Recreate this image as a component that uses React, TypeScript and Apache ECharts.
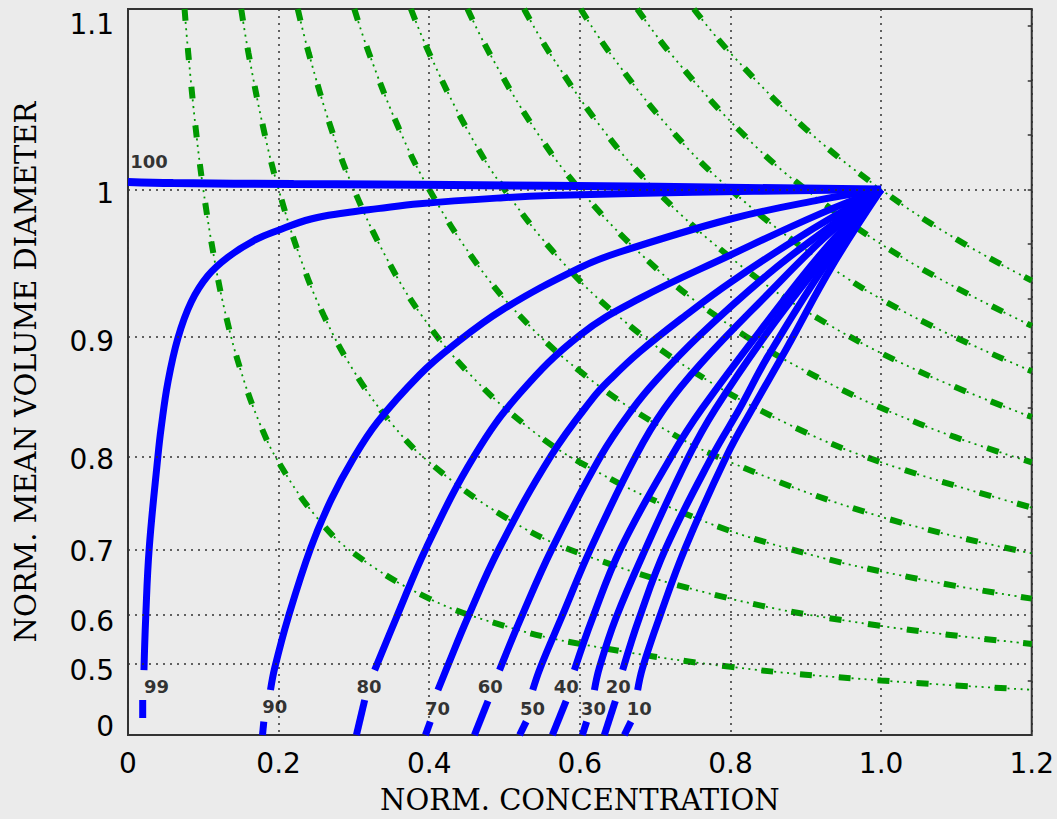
import React, { useEffect, useRef } from "react";
import * as echarts from "echarts";

// ---------- axis ticks ----------
const xTicks = [0, 0.2, 0.4, 0.6, 0.8, 1.0, 1.2];
const yTickLabels = [0, 0.5, 0.6, 0.7, 0.8, 0.9, 1, 1.1]; // normalized diameter labels
const yGridLabels = [0.5, 0.6, 0.7, 0.8, 0.9, 1];

// ---------- blue mixing lines: [norm. concentration, norm. volume (= diameter^3)] ----------
const rh100 = [[0, 1.014], [0.06, 1.012], [0.22, 1.01], [0.56, 1.007], [1, 1]];
const rh99Lower = [[0.0195, 0.031], [0.0195, 0.064]];
const rh99Upper = [[0.0212, 0.119], [0.0235, 0.215], [0.0282, 0.343], [0.0398, 0.512], [0.0442, 0.565], [0.053, 0.647], [0.0663, 0.728], [0.0839, 0.794], [0.106, 0.842], [0.1326, 0.876], [0.168, 0.907], [0.199, 0.925], [0.243, 0.946], [0.287, 0.957], [0.3315, 0.965], [0.387, 0.974], [0.498, 0.985], [0.56, 0.989], [0.75, 0.995], [1, 1]];
const rh90Lower = [[0.1786, 0], [0.1803, 0.0245]];
const rh90Upper = [[0.1892, 0.0824], [0.1949, 0.1234], [0.2126, 0.215], [0.2427, 0.343], [0.27, 0.432], [0.2984, 0.505], [0.3315, 0.574], [0.387, 0.66], [0.428, 0.71], [0.4977, 0.78], [0.599, 0.856], [0.652, 0.885], [0.8, 0.946], [0.918, 0.981], [1, 1]];
const rh80Lower = [[0.3033, 0], [0.3143, 0.0641]];
const rh80Upper = [[0.3275, 0.119], [0.3563, 0.215], [0.396, 0.343], [0.46, 0.512], [0.52, 0.626], [0.6, 0.733], [0.679, 0.8], [0.8, 0.88], [0.918, 0.955], [1, 1]];
const rh70Lower = [[0.395, 0], [0.4014, 0.0245]];
const rh70Upper = [[0.4115, 0.0824], [0.4235, 0.1234], [0.451, 0.215], [0.4933, 0.343], [0.5618, 0.512], [0.617, 0.617], [0.641, 0.653], [0.679, 0.702], [0.741, 0.77], [0.8, 0.83], [0.9, 0.92], [1, 1]];
const rh60Lower = [[0.46, 0], [0.478, 0.0623]];
const rh60Upper = [[0.4933, 0.119], [0.522, 0.215], [0.5636, 0.343], [0.628, 0.512], [0.67, 0.598], [0.703, 0.653], [0.7585, 0.732], [0.85, 0.845], [0.925, 0.925], [1, 1]];
const rh50Lower = [[0.52, 0], [0.5287, 0.0245]];
const rh50Upper = [[0.5374, 0.0824], [0.5475, 0.1234], [0.5755, 0.215], [0.6149, 0.343], [0.6745, 0.512], [0.712, 0.598], [0.76, 0.68], [0.85, 0.809], [0.925, 0.912], [1, 1]];
const rh40Lower = [[0.5635, 0], [0.5817, 0.0623]];
const rh40Upper = [[0.5927, 0.119], [0.617, 0.215], [0.6547, 0.343], [0.722, 0.512], [0.762, 0.598], [0.85, 0.76], [0.925, 0.89], [1, 1]];
const rh30Lower = [[0.6033, 0], [0.609, 0.0245]];
const rh30Upper = [[0.6193, 0.0824], [0.6259, 0.1234], [0.648, 0.215], [0.6878, 0.343], [0.745, 0.512], [0.78, 0.598], [0.85, 0.74], [0.925, 0.875], [1, 1]];
const rh20Lower = [[0.6325, 0], [0.6471, 0.0623]];
const rh20Upper = [[0.6568, 0.119], [0.679, 0.215], [0.7143, 0.343], [0.776, 0.512], [0.812, 0.598], [0.85, 0.695], [0.925, 0.86], [1, 1]];
const rh10Lower = [[0.659, 0], [0.6679, 0.0245]];
const rh10Upper = [[0.6767, 0.0824], [0.6833, 0.1234], [0.7055, 0.215], [0.74, 0.343], [0.795, 0.512], [0.829, 0.598], [0.875, 0.71], [0.935, 0.86], [1, 1]];

// ---------- curve labels ----------
const mixingLabels = ["100", "99", "90", "80", "70", "60", "50", "40", "30", "20", "10"];
const labelX = [0.028, 0.038, 0.195, 0.32, 0.411, 0.481, 0.537, 0.582, 0.618, 0.651, 0.679];
const labelY = [1.051, 0.089, 0.052, 0.089, 0.049, 0.089, 0.049, 0.089, 0.049, 0.089, 0.049];

// ---------- green iso-lines ----------
const g01 = [[0.0751, 1.331], [0.08, 1.25], [0.09, 1.111], [0.1, 1.0], [0.115, 0.87], [0.13, 0.769], [0.15, 0.667], [0.175, 0.571], [0.2, 0.5], [0.25, 0.4], [0.3, 0.333], [0.4, 0.25], [0.5, 0.2], [0.6, 0.167], [0.8, 0.125], [1.0, 0.1], [1.2, 0.083]];
const g02 = [[0.1503, 1.331], [0.16, 1.25], [0.18, 1.111], [0.2, 1.0], [0.23, 0.87], [0.26, 0.769], [0.3, 0.667], [0.35, 0.571], [0.4, 0.5], [0.5, 0.4], [0.6, 0.333], [0.8, 0.25], [1.0, 0.2], [1.2, 0.167]];
const g03 = [[0.2254, 1.331], [0.24, 1.25], [0.27, 1.111], [0.3, 1.0], [0.345, 0.87], [0.39, 0.769], [0.45, 0.667], [0.525, 0.571], [0.6, 0.5], [0.75, 0.4], [0.9, 0.333], [1.05, 0.286], [1.2, 0.25]];
const g04 = [[0.3005, 1.331], [0.32, 1.25], [0.36, 1.111], [0.4, 1.0], [0.46, 0.87], [0.52, 0.769], [0.6, 0.667], [0.7, 0.571], [0.8, 0.5], [1.0, 0.4], [1.2, 0.333]];
const g05 = [[0.3757, 1.331], [0.4, 1.25], [0.45, 1.111], [0.5, 1.0], [0.575, 0.87], [0.65, 0.769], [0.75, 0.667], [0.875, 0.571], [1.0, 0.5], [1.2, 0.417]];
const g06 = [[0.4508, 1.331], [0.48, 1.25], [0.54, 1.111], [0.6, 1.0], [0.69, 0.87], [0.78, 0.769], [0.9, 0.667], [1.05, 0.571], [1.2, 0.5]];
const g07 = [[0.5259, 1.331], [0.56, 1.25], [0.63, 1.111], [0.7, 1.0], [0.805, 0.87], [0.91, 0.769], [1.05, 0.667], [1.2, 0.583]];
const g08 = [[0.6011, 1.331], [0.64, 1.25], [0.72, 1.111], [0.8, 1.0], [0.92, 0.87], [1.04, 0.769], [1.2, 0.667]];
const g09 = [[0.6762, 1.331], [0.72, 1.25], [0.81, 1.111], [0.9, 1.0], [1.035, 0.87], [1.2, 0.75]];
const g10 = [[0.7513, 1.331], [0.8, 1.25], [0.9, 1.111], [1.0, 1.0], [1.1, 0.909], [1.2, 0.833]];

const blueSegments = [
  rh100, rh99Lower, rh99Upper, rh90Lower, rh90Upper, rh80Lower, rh80Upper,
  rh70Lower, rh70Upper, rh60Lower, rh60Upper, rh50Lower, rh50Upper,
  rh40Lower, rh40Upper, rh30Lower, rh30Upper, rh20Lower, rh20Upper, rh10Lower, rh10Upper,
];
const greenCurves = [g01, g02, g03, g04, g05, g06, g07, g08, g09, g10];

const cube = (d: number) => d * d * d;
const BLUE = "#0000ff";
const GREEN = "#009900";
const TICK_FONT = "DejaVu Sans";
const TITLE_FONT = "DejaVu Serif";

export default function App() {
  const ref = useRef<HTMLDivElement>(null);

  useEffect(() => {
    document.body.style.margin = "0";
    if (!ref.current) return;
    const chart = echarts.init(ref.current, null, { renderer: "svg" });

    const lastY = yTickLabels[yTickLabels.length - 1];
    const yLabelFor = (v: number) => {
      const hit = yTickLabels.find((l) => Math.abs(cube(l) - v) < 1e-6);
      if (hit === undefined) return "";
      const style = hit === 0 ? "bot" : hit === lastY ? "top" : "n";
      return `{${style}|${hit}}`;
    };
    const tickText = { fontSize: 28, color: "#000", fontFamily: TICK_FONT };

    const series: any[] = [];
    // horizontal dotted grid lines
    series.push({
      type: "line",
      data: [],
      silent: true,
      z: 1,
      markLine: {
        silent: true,
        symbol: ["none", "none"],
        label: { show: false },
        lineStyle: { type: [2, 5], color: "#333", width: 1.5 },
        data: yGridLabels.map((v) => ({ yAxis: cube(v) })),
      },
    });
    greenCurves.forEach((c) => {
      series.push({
        type: "line", data: c, symbol: "none", smooth: 0.4, silent: true, z: 2,
        lineStyle: { color: GREEN, width: 1.8, type: [2, 4.5] },
      });
      series.push({
        type: "line", data: c, symbol: "none", smooth: 0.4, silent: true, z: 2,
        lineStyle: { color: GREEN, width: 6, type: [12, 27] },
      });
    });
    blueSegments.forEach((s, i) => {
      series.push({
        type: "line", data: s, symbol: "none", smooth: 0.4, silent: true, z: 3,
        lineStyle: { color: BLUE, width: i === 0 ? 8 : 7 },
      });
    });
    series.push({
      type: "scatter",
      data: labelX.map((x, i) => [x, labelY[i], mixingLabels[i]]),
      symbolSize: 1,
      itemStyle: { color: "transparent" },
      silent: true,
      z: 5,
      label: {
        show: true, position: ["50%", "50%"], align: "center", verticalAlign: "middle",
        formatter: (p: any) => p.value[2],
        color: "#000", fontSize: 18, fontWeight: "bold", fontFamily: TICK_FONT, textBorderWidth: 0,
      },
    });

    chart.setOption({
      animation: false,
      backgroundColor: "#ebebeb",
      grid: { left: 128, right: 24, top: 9, bottom: 82, show: true, borderColor: "#333", borderWidth: 2 },
      xAxis: {
        type: "value", min: xTicks[0], max: xTicks[xTicks.length - 1], interval: 0.2,
        axisLine: { show: false }, axisTick: { show: false },
        splitLine: { show: true, lineStyle: { type: [2, 5], color: "#333", width: 1.5 } },
        axisLabel: {
          formatter: (v: number) => (v === 0 ? "0" : v.toFixed(1)),
          ...tickText, margin: 14,
        },
        name: "NORM. CONCENTRATION", nameLocation: "middle", nameGap: 50,
        nameTextStyle: { fontSize: 29, color: "#000", fontFamily: TITLE_FONT },
      },
      yAxis: [
        {
          type: "value", min: 0, max: cube(lastY),
          axisLine: { show: false }, axisTick: { show: false }, splitLine: { show: false },
          axisLabel: {
            customValues: yTickLabels.map(cube),
            formatter: yLabelFor,
            ...tickText, margin: 14,
            rich: {
              n: { ...tickText, padding: [8, 0, 0, 0] },
              top: { ...tickText, padding: [30, 0, 0, 0] },
              bot: { ...tickText, padding: [0, 0, 18, 0] },
            },
          },
          name: "NORM. MEAN VOLUME DIAMETER", nameLocation: "middle", nameRotate: 90, nameGap: 88,
          nameTextStyle: { fontSize: 29, color: "#000", fontFamily: TITLE_FONT },
        },
        {
          type: "value", position: "right", min: 0, max: cube(lastY), interval: 0.1,
          axisLine: { show: false }, splitLine: { show: false }, axisLabel: { show: false },
          axisTick: { show: true, inside: true, length: 4, lineStyle: { color: "#333", width: 1.5 } },
        },
      ],
      series,
    });
    return () => chart.dispose();
  }, []);

  return <div ref={ref} style={{ width: 1057, height: 819 }} />;
}
